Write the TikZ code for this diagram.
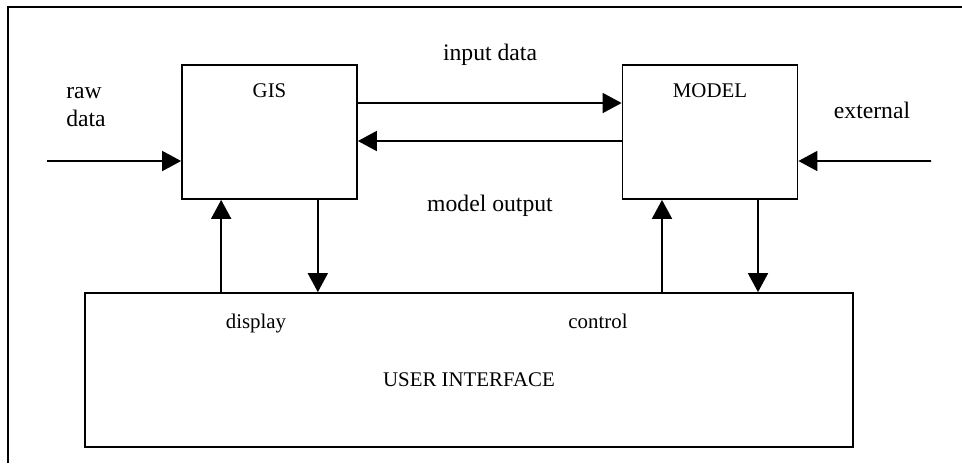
\documentclass[tikz,border=0pt]{standalone}
\usepackage{fontspec}
\setmainfont{Liberation Serif}
\usetikzlibrary{arrows.meta}

\begin{document}
\begin{tikzpicture}[x=0.03cm,y=-0.03cm,line width=1.5pt,
    box/.style={draw,minimum width=5.25cm,minimum height=4.02cm,inner sep=0pt},
    arr/.style={-{Triangle[length=0.57cm,width=0.6cm]}},
    txt/.style={inner sep=0pt,font=\fontsize{17.8}{22}\selectfont},
    bigtxt/.style={inner sep=0pt,font=\fontsize{20.2}{23.9}\selectfont}]
   \useasboundingbox (0,0) rectangle (962,463);
   % frame
   \draw (8,463) -- (8,7) -- (962,7);

   \node[box] (gis) at (269.5,132) {};
   \node[box] (model) at (710,132) {};
   \node[draw,minimum width=23.04cm,minimum height=4.62cm] (ui) at (469,370) {};

   \node[txt] (gistxt) at ([yshift=-0.81cm]gis.north) {GIS};
   \node[txt] (modeltxt) at ([yshift=-0.81cm]model.north) {MODEL};
   \node[txt] (uitxt) at ([yshift=-0.3cm]ui.center) {USER INTERFACE};
   \node[txt,anchor=base] (disp) at (256,328) {display};
   \node[txt,anchor=base] (ctrl) at (598,328) {control};

   \node[bigtxt] (indata) at (490,55) {input data};
   \node[bigtxt] (outdata) at (490,206) {model output};
   \node[bigtxt,align=left] (raw) at (86,107) {raw\\data};
   \node[bigtxt] (ext) at (872,110) {external};

   % outside inputs
   \coordinate (rawin) at (47,161);
   \coordinate (extin) at (931,161);
   \draw[arr] (rawin) -- ([yshift=-0.87cm]gis.west);
   \draw[arr] (extin) -- ([yshift=-0.87cm]model.east);

   % GIS <-> MODEL
   \draw[arr] ([yshift=0.87cm]gis.east) -- ([yshift=0.87cm]model.west);
   \draw[arr] ([yshift=-0.27cm]model.west) -- ([yshift=-0.27cm]gis.east);

   % boxes <-> user interface
   \draw[arr] ([xshift=-1.45cm]gis.south |- ui.north) -- ([xshift=-1.45cm]gis.south);
   \draw[arr] ([xshift=1.45cm]gis.south) -- ([xshift=1.45cm]gis.south |- ui.north);
   \draw[arr] ([xshift=-1.44cm]model.south |- ui.north) -- ([xshift=-1.44cm]model.south);
   \draw[arr] ([xshift=1.44cm]model.south) -- ([xshift=1.44cm]model.south |- ui.north);
\end{tikzpicture}
\end{document}
